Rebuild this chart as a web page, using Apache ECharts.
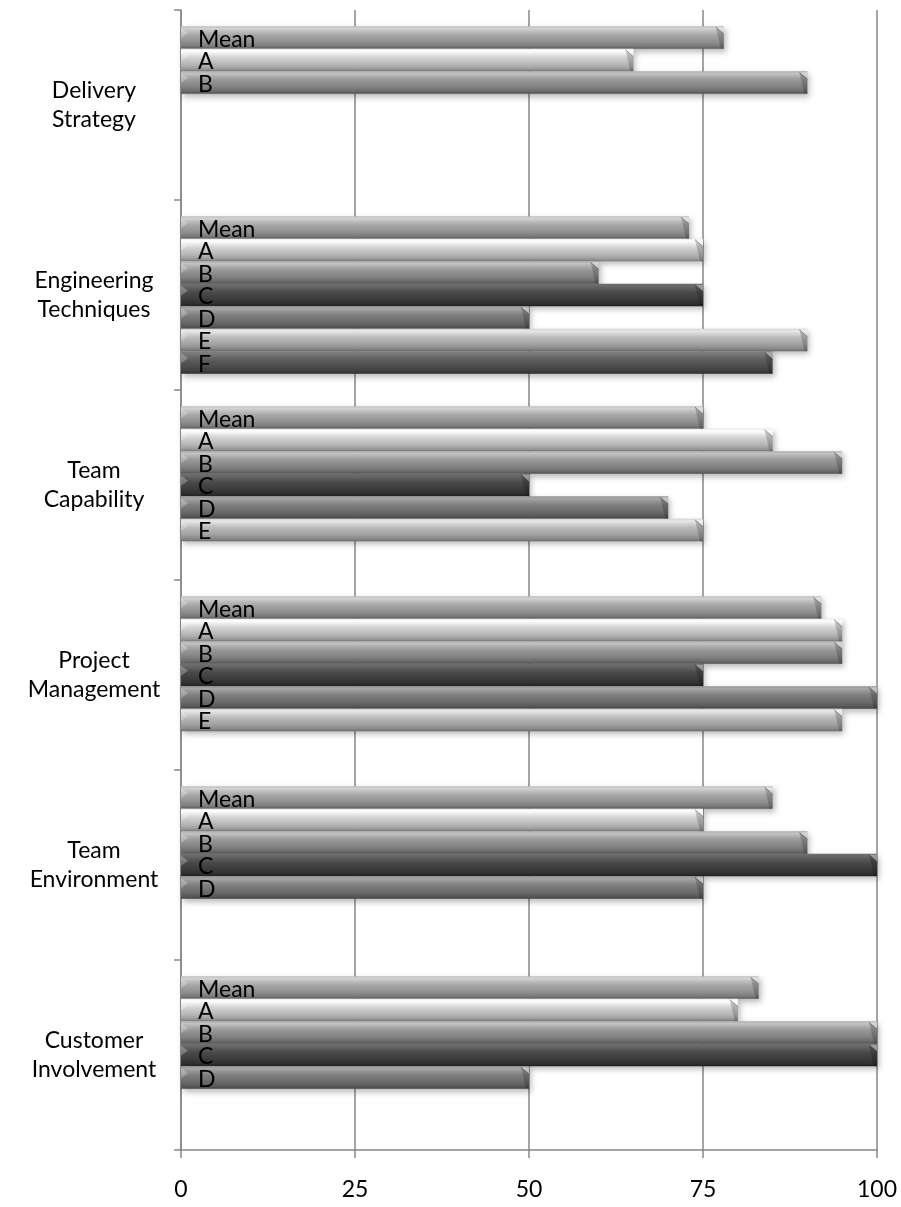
<!DOCTYPE html>
<html>
<head>
<meta charset="utf-8">
<script src="https://cdn.jsdelivr.net/npm/echarts@6/dist/echarts.min.js"></script>
<style>
  html, body { margin: 0; padding: 0; background: #fff; }
  #chart { width: 901px; height: 1207px; }
</style>
</head>
<body>
<div id="chart"></div>
<script>
// Practice areas, listed top to bottom
const categories = [
  'Delivery\nStrategy',
  'Engineering\nTechniques',
  'Team\nCapability',
  'Project\nManagement',
  'Team\nEnvironment',
  'Customer\nInvolvement'
];

// Scores per respondent (null = no answer in that area)
const meanScores = [78, 73, 75, 92, 85, 83];
const scoresA    = [65, 75, 85, 95, 75, 80];
const scoresB    = [90, 60, 95, 95, 90, 100];
const scoresC    = [null, 75, 50, 75, 100, 100];
const scoresD    = [null, 50, 70, 100, 75, 50];
const scoresE    = [null, 90, 75, 95, null, null];
const scoresF    = [null, 85, null, null, null, null];

const seriesNames = ['Mean', 'A', 'B', 'C', 'D', 'E', 'F'];
const seriesData = [meanScores, scoresA, scoresB, scoresC, scoresD, scoresE, scoresF];

const xTicks = [0, 25, 50, 75, 100];

const CATEGORY_GAP = 0.17;

// Cylinder-like shading for each bar: top highlight to dark bottom edge
const shades = [
  ['#bdbdbd', '#d2d2d2', '#a8a8a8', '#909090', '#787878', '#5c5c5c'], // Mean
  ['#e8e8e8', '#ffffff', '#d4d4d4', '#b6b6b6', '#9c9c9c', '#7c7c7c'], // A
  ['#acacac', '#c2c2c2', '#999999', '#818181', '#6a6a6a', '#505050'], // B
  ['#6e6e6e', '#686868', '#4a4a4a', '#3a3a3a', '#2e2e2e', '#202020'], // C
  ['#939393', '#a6a6a6', '#808080', '#6a6a6a', '#575757', '#424242'], // D
  ['#d2d2d2', '#e8e8e8', '#bcbcbc', '#a0a0a0', '#878787', '#6a6a6a'], // E
  ['#7e7e7e', '#7a7a7a', '#5c5c5c', '#4a4a4a', '#3c3c3c', '#2a2a2a']  // F
];

function shadeGradient(s) {
  return new echarts.graphic.LinearGradient(0, 0, 0, 1, [
    { offset: 0, color: s[0] },
    { offset: 0.1, color: s[1] },
    { offset: 0.38, color: s[2] },
    { offset: 0.7, color: s[3] },
    { offset: 0.9, color: s[4] },
    { offset: 1, color: s[5] }
  ]);
}

const FONT = 'Lato, "Open Sans", sans-serif';
const GRID_COLOR = '#878787';

// Bevelled end caps drawn on top of each bar
function bevelSeries(i) {
  const data = [];
  seriesData[i].forEach((v, j) => { if (v != null) data.push([v, j]); });
  const n = seriesNames.length;
  return {
    type: 'custom',
    coordinateSystem: 'cartesian2d',
    silent: true,
    z: 3,
    encode: { x: 0, y: 1 },
    data: data,
    renderItem: function (params, api) {
      const v = api.value(0);
      const j = api.value(1);
      const end = api.coord([v, j]);
      const start = api.coord([0, j]);
      const band = api.size([0, 1])[1];
      const bw = band * (1 - CATEGORY_GAP) / n;
      const top = end[1] - band / 2 + band * CATEGORY_GAP / 2 + i * bw;
      const bot = top + bw;
      const x1 = end[0];
      const x0 = start[0];
      const b = 8;
      const s = shades[i];
      return {
        type: 'group',
        children: [
          // light bevel face at the top-right corner
          {
            type: 'polygon',
            shape: { points: [[x1 - b, top + 1], [x1, top + 1], [x1, top + b]] },
            style: { fill: 'rgba(255,255,255,0.35)' }
          },
          // darker end face
          {
            type: 'polygon',
            shape: { points: [[x1 - b, top + 1], [x1, top + b], [x1, bot], [x1 - 3, bot]] },
            style: { fill: 'rgba(0,0,0,0.18)' }
          },
          {
            type: 'line',
            shape: { x1: x1 - b, y1: top + 1, x2: x1, y2: top + b },
            style: { stroke: 'rgba(0,0,0,0.35)', lineWidth: 1 }
          },
          // small highlight at the left end
          {
            type: 'polygon',
            shape: { points: [[x0, top + 2], [x0 + 7, top + 7], [x0, top + 12]] },
            style: { fill: 'rgba(255,255,255,0.25)' }
          }
        ]
      };
    }
  };
}

const chart = echarts.init(document.getElementById('chart'), null, { renderer: 'canvas' });

const barSeries = seriesNames.map((name, i) => ({
  name: name,
  type: 'bar',
  data: seriesData[i],
  barGap: '0%',
  barCategoryGap: (CATEGORY_GAP * 100) + '%',
  itemStyle: {
    color: shadeGradient(shades[i]),
    shadowColor: 'rgba(0,0,0,0.28)',
    shadowBlur: 6,
    shadowOffsetX: 2,
    shadowOffsetY: 3
  },
  label: {
    show: true,
    position: 'insideLeft',
    distance: 17,
    offset: [0, 2],
    formatter: name,
    color: '#000',
    fontFamily: FONT,
    fontSize: 23
  }
}));

chart.setOption({
  animation: false,
  backgroundColor: '#ffffff',
  grid: { left: 181, right: 24, top: 10, bottom: 57, containLabel: false },
  xAxis: {
    type: 'value',
    min: xTicks[0],
    max: xTicks[xTicks.length - 1],
    interval: 25,
    axisLine: { show: true, lineStyle: { color: GRID_COLOR, width: 1.5 } },
    axisTick: { show: true, length: 8, lineStyle: { color: GRID_COLOR, width: 1.5 } },
    axisLabel: { margin: 28, color: '#000', fontFamily: FONT, fontSize: 23 },
    splitLine: { show: true, lineStyle: { color: GRID_COLOR, width: 1.5 } }
  },
  yAxis: {
    type: 'category',
    inverse: true,
    data: categories,
    axisLine: { show: true, lineStyle: { color: GRID_COLOR, width: 1.5 } },
    axisTick: { show: true, length: 7, lineStyle: { color: GRID_COLOR, width: 1.5 } },
    axisLabel: {
      margin: 87,
      align: 'center',
      color: '#000',
      fontFamily: FONT,
      fontSize: 23,
      lineHeight: 29
    },
    splitLine: { show: false }
  },
  series: barSeries.concat(seriesNames.map((_, i) => bevelSeries(i)))
});
</script>
</body>
</html>
